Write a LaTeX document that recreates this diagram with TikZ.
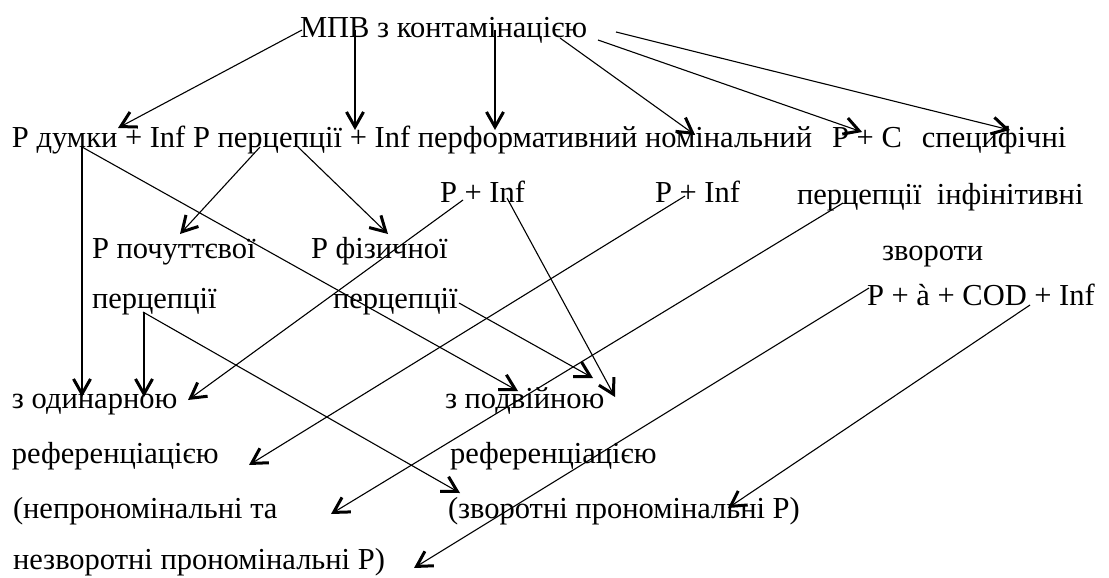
\documentclass[tikz,border=0pt]{standalone}
\usepackage{fontspec}
\IfFontExistsTF{Liberation Serif}{\setmainfont{Liberation Serif}}{\setmainfont{DejaVu Serif}}
\usetikzlibrary{arrows.meta}
\begin{document}
\begin{tikzpicture}[x=1pt,y=-1pt,
  lbl/.style={inner sep=0pt, outer sep=0pt, anchor=base west, font=\rmfamily\fontsize{30.5}{36}\selectfont},
  arr/.style={line width=1.1pt, -{Straight Barb[length=15pt,width=17pt,line width=3pt]}}]
\fill[white] (0,0) rectangle (1109,578);
\useasboundingbox (0,0) rectangle (1109,578);
% row 1
\node[lbl] (mpv) at (300,38) {МПВ з контамінацією};
% row 2
\node[lbl] (da) at (12,147) {Р думки + Inf};
\node[lbl] (pe) at ([xshift=7.6pt]da.base east) {Р перцепції + Inf};
\node[lbl] (pf) at ([xshift=7.6pt]pe.base east) {перформативний};
\node[lbl] (nm) at ([xshift=7.6pt]pf.base east) {номінальний};
\node[lbl] (pc) at ([xshift=20pt]nm.base east) {Р + С};
\node[lbl] (sp) at ([xshift=20pt]pc.base east) {специфічні};
% row 3
\node[lbl] (pi1) at (440,202) {Р + Inf};
\node[lbl] (pi2) at (655,202) {Р + Inf};
\node[lbl] (pin) at (797,204) {перцепції~~інфінітивні};
% row 4
\node[lbl] (poch) at (92,258) {Р почуттєвої};
\node[lbl] (fiz) at (311,258) {Р фізичної};
\node[lbl] (zv) at (882,260) {звороти};
% row 5
\node[lbl] (per1) at (92,308) {перцепції};
\node[lbl] (per2) at (333,308) {перцепції};
\node[lbl] (pa) at (867,305) {P + à + COD + Inf};
% rows 6-9
\node[lbl] (odyn) at (12,408) {з одинарною};
\node[lbl] (podv) at (445,408) {з подвійною};
\node[lbl] (ref1) at (12,463) {референціацією};
\node[lbl] (ref2) at (450,463) {референціацією};
\node[lbl] (nepr) at (13,518) {(непрономінальні та};
\node[lbl] (zvor) at (448,518) {(зворотні прономінальні Р)};
\node[lbl] (nezv) at (13,569) {незворотні прономінальні Р)};
% helper points for the two vertical connectors from the top
\coordinate (s2) at ([shift={(55,-8)}]mpv.base west);
\coordinate (h2) at ([yshift=17pt]pe.base west);
\coordinate (s3) at ([shift={(195,-8)}]mpv.base west);
\coordinate (h3) at ([yshift=17pt]pf.base west);
% connectors from the top
\draw[arr] ([shift={(2,-8)}]mpv.base west) -- ([shift={(106,-19)}]da.base west);
\draw[arr] (s2) -- (s2 |- h2);
\draw[arr] (s3) -- (s3 |- h3);
\draw[arr] ([shift={(260,0)}]mpv.base west) -- ([shift={(50,-12)}]nm.base west);
\draw[arr] ([shift={(298,2)}]mpv.base west) -- ([shift={(30,-15)}]pc.base west);
\draw[arr] ([shift={(316,-6)}]mpv.base west) -- ([shift={(88,-17)}]sp.base west);
% from row 2
\draw[arr] ([shift={(70,0)}]da.base west) -- ([shift={(70,-11)}]odyn.base west);
\draw[arr] ([shift={(70,0)}]da.base west) -- ([shift={(73,-17)}]podv.base west);
\draw[arr] ([shift={(67,0)}]pe.base west) -- ([shift={(88,-24)}]poch.base west);
\draw[arr] ([shift={(105,0)}]pe.base west) -- ([shift={(77,-24)}]fiz.base west);
% from row 3
\draw[arr] ([shift={(67,-4)}]pi1.base west) -- ([shift={(170,-11)}]podv.base west);
\draw[arr] ([shift={(23,-2)}]pi1.base west) -- ([shift={(176,-8)}]odyn.base west);
\draw[arr] ([shift={(30,-6)}]pi2.base west) -- ([shift={(237,2)}]ref1.base west);
\draw[arr] ([shift={(46,-1)}]pin.base west) -- ([shift={(318,-4)}]nepr.base west);
% from row 5
\draw[arr] ([shift={(52,4)}]per1.base west) -- ([shift={(132,-11)}]odyn.base west);
\draw[arr] ([shift={(51,4)}]per1.base west) -- ([shift={(12,-25)}]zvor.base west);
\draw[arr] ([shift={(126,-5)}]per2.base west) -- ([shift={(148,-30)}]podv.base west);
\draw[arr] ([shift={(2,-17)}]pa.base west) -- ([shift={(401,-1)}]nezv.base west);
\draw[arr] ([shift={(163,0)}]pa.base west) -- ([shift={(280,-10)}]zvor.base west);
\end{tikzpicture}
\end{document}
